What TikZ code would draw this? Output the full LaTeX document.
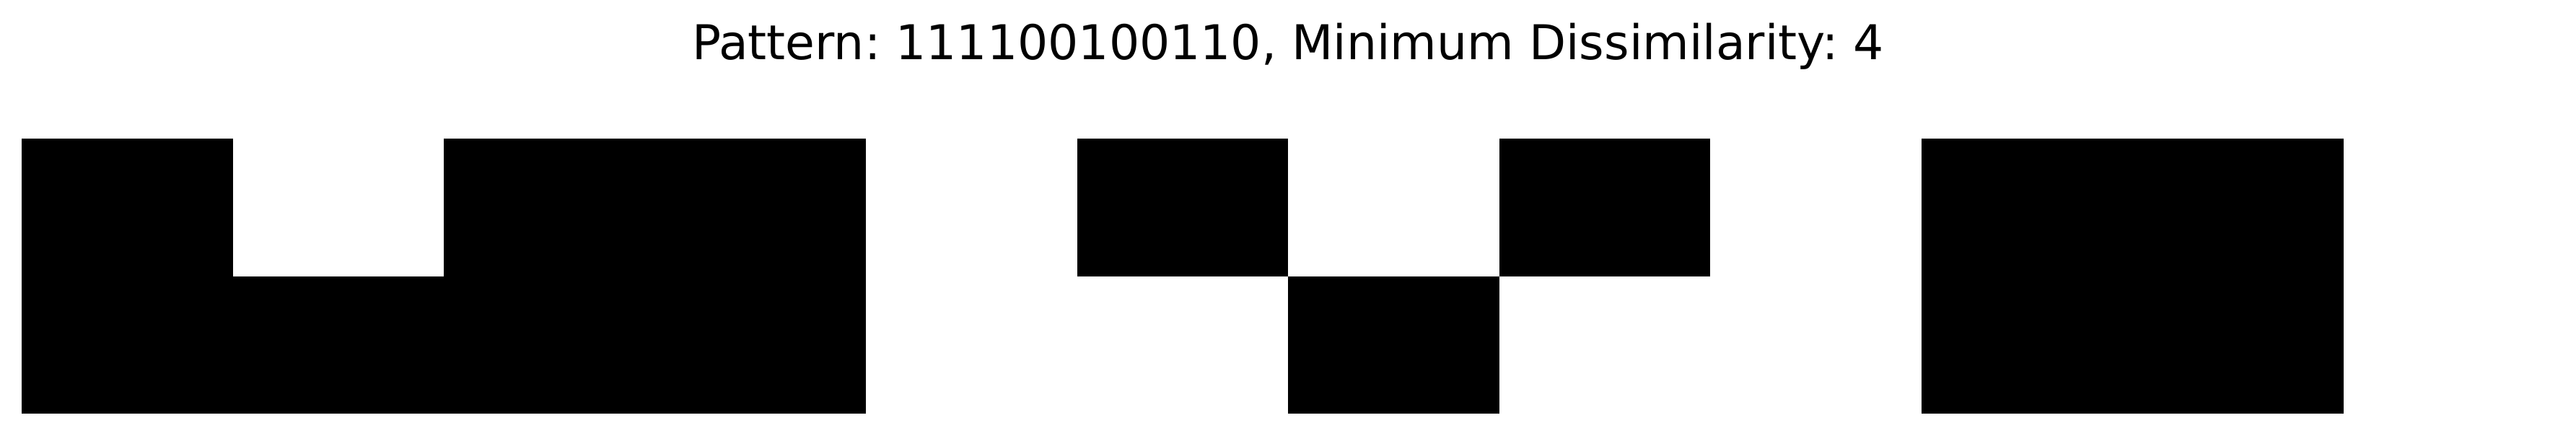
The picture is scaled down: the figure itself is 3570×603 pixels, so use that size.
\documentclass[tikz,border=0pt]{standalone}
\usepackage{fontspec}
\setmainfont{DejaVu Sans}
\begin{document}
\frenchspacing
\begin{tikzpicture}[x=0.2pt,y=-0.2pt,
  cellfill/.style={fill=black},
  titletext/.style={font=\fontsize{13.28pt}{16pt}\selectfont, inner sep=0pt, anchor=base}]
\useasboundingbox (0,0) rectangle (3570,603);
\fill[white] (0,0) rectangle (3570,603);
\def\cw{292.5}
% top row black cells (column indices)
\foreach \c in {0,2,3,5,7,9,10}{
  \fill[cellfill] ({30+\c*\cw},192) rectangle ({30+(\c+1)*\cw},382.5);
}
% bottom row black cells
\foreach \c in {0,1,2,3,6,9,10}{
  \fill[cellfill] ({30+\c*\cw},382.5) rectangle ({30+(\c+1)*\cw},573);
}
\node[titletext] (title) at (1785,82.3) {Pattern: 111100100110, Minimum Dissimilarity: 4};
\end{tikzpicture}
\end{document}
